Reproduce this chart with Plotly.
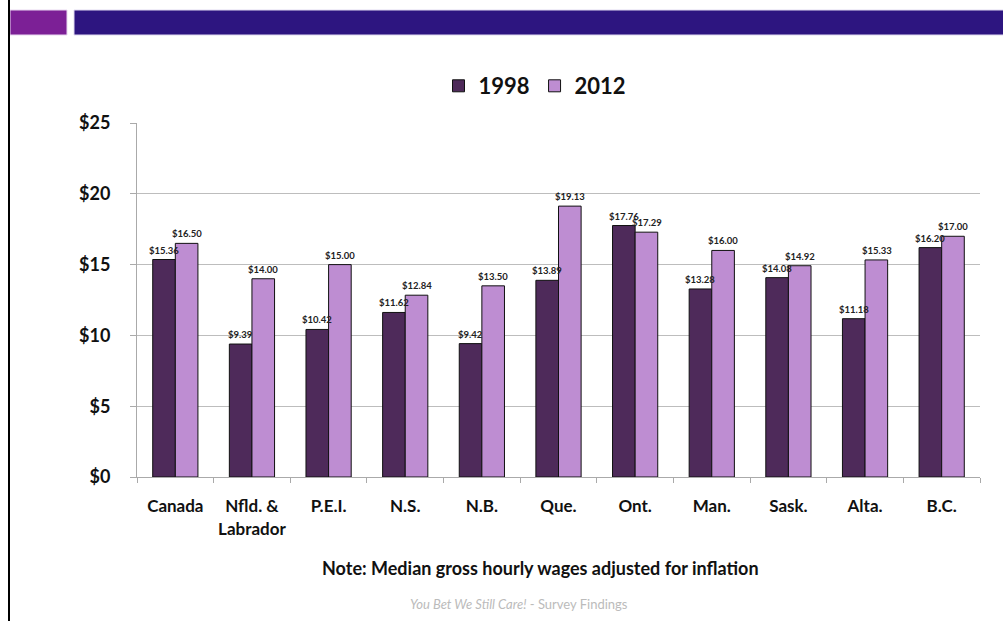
import plotly.graph_objects as go

categories = ["Canada", "Nfld. &<br>Labrador", "P.E.I.", "N.S.", "N.B.", "Que.", "Ont.",
              "Man.", "Sask.", "Alta.", "B.C."]
wages_1998 = [15.36, 9.39, 10.42, 11.62, 9.42, 13.89, 17.76, 13.28, 14.08, 11.18, 16.20]
wages_2012 = [16.50, 14.00, 15.00, 12.84, 13.50, 19.13, 17.29, 16.00, 14.92, 15.33, 17.00]
y_ticks = [0, 5, 10, 15, 20, 25]

W, H = 1003, 621
L, R, T, B = 137, 23, 123, 144
PW, PH = W - L - R, H - T - B

def px(x):
    return (x - L) / PW

def py(y):
    return (H - B - y) / PH

FONT = "Lato"
fig = go.Figure()
series = [("1998", wages_1998, "#4E2A5A", -11.5), ("2012", wages_2012, "#BE8DD2", 11.5)]
annotations = []
for name, vals, col, shift in series:
    fig.add_trace(go.Bar(
        x=categories, y=vals, name=name, hoverinfo="skip",
        marker=dict(color=col, line=dict(color="#111111", width=1)),
    ))
    for c, v in zip(categories, vals):
        annotations.append(dict(
            x=c, y=v, xref="x", yref="y", xshift=shift, yshift=2,
            text=f"<b>${v:.2f}</b>", showarrow=False, yanchor="bottom", xanchor="center",
            font=dict(family=FONT, size=9.5, color="#222222"),
        ))

annotations += [
    dict(text="<b>Note: Median gross hourly wages adjusted for inflation</b>", xref="paper",
         yref="paper", x=px(540), y=py(568), xanchor="center", yanchor="middle",
         showarrow=False, font=dict(family=FONT, size=18, color="#111111")),
    dict(text="<i>You Bet We Still Care!</i> - Survey Findings", xref="paper",
         yref="paper", x=px(519), y=py(604), xanchor="center", yanchor="middle",
         showarrow=False, font=dict(family=FONT, size=13, color="#BBBBBB")),
]

fig.update_layout(
    width=W, height=H,
    margin=dict(l=L, r=R, t=T, b=B, autoexpand=False),
    plot_bgcolor="white", paper_bgcolor="white",
    barmode="group", bargap=0.41, bargroupgap=0,
    font=dict(family=FONT, color="#111111"),
    legend=dict(orientation="h", x=px(535), xanchor="center", y=py(86), yanchor="middle",
                font=dict(family=FONT, size=22, color="#111111", weight="bold"),
                itemwidth=30, traceorder="normal"),
    xaxis=dict(showline=True, linecolor="#AAAAAA", linewidth=1, ticks="outside",
               tickson="boundaries", ticklen=5, tickcolor="#AAAAAA", ticklabelstandoff=14,
               tickangle=0,
               tickfont=dict(family=FONT, size=17, color="#111111", weight="bold")),
    yaxis=dict(range=[0, 25], tickvals=y_ticks, ticktext=[f"${v}" for v in y_ticks],
               showgrid=True, gridcolor="#BDBDBD", gridwidth=1, showline=True,
               linecolor="#AAAAAA", ticks="outside", ticklen=6, tickcolor="#AAAAAA",
               zeroline=False, ticklabelstandoff=16,
               tickfont=dict(family=FONT, size=18, color="#111111", weight="bold")),
    shapes=[
        dict(type="rect", xref="paper", yref="paper", x0=px(10), x1=px(67), y0=py(35), y1=py(10),
             fillcolor="#7C2096", line=dict(width=1, color="#E8D8F0")),
        dict(type="rect", xref="paper", yref="paper", x0=px(74), x1=px(1004), y0=py(35), y1=py(10),
             fillcolor="#2D1580", line=dict(width=1, color="#E0DAF0")),
        dict(type="line", xref="paper", yref="paper", x0=px(9), x1=px(9), y0=py(0), y1=py(621),
             line=dict(width=2, color="#000000")),
    ],
    annotations=annotations,
)

fig.write_html("out.html", config={"displayModeBar": False, "staticPlot": True},
               post_script="document.body.style.margin='0';document.body.style.overflow='hidden';")
